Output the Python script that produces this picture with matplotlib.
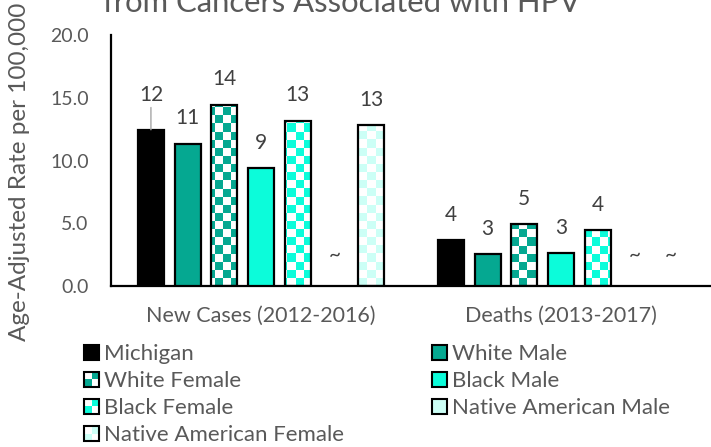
import matplotlib
matplotlib.use('Agg')
import matplotlib.pyplot as plt
import numpy as np
from matplotlib.colors import ListedColormap
from matplotlib.patches import Patch, Rectangle
from matplotlib.legend_handler import HandlerBase

plt.rcParams['font.family'] = ['Lato', 'DejaVu Sans']

# data
categories = ['New Cases (2012-2016)', 'Deaths (2013-2017)']
series = ['Michigan', 'White Male', 'White Female', 'Black Male',
          'Black Female', 'Native American Male', 'Native American Female']
new_cases = [12.45, 11.34, 14.45, 9.38, 13.17, np.nan, 12.83]
deaths = [3.67, 2.55, 4.94, 2.63, 4.46, np.nan, np.nan]
values = np.array([new_cases, deaths])

colors = ['#000000', '#05A891', '#05A891', '#0CFCDA', '#0CFCDA', '#CCFFF6', '#CCFFF6']
checkered = [False, False, True, False, True, False, True]

txt = '#595959'

fig = plt.figure(figsize=(7.11, 4.47), dpi=100)
ax = fig.add_axes([111/711, 1-286/447, 1-111/711, (286-35)/447])
ax.set_xlim(-0.5, 1.5)
ax.set_ylim(0, 20)

slot = 0.1223
width = 0.087
x = np.arange(len(categories))


def checker(bar, color):
    # checkerboard fill clipped to the bar, ~8 px cells
    ny, nx = 31, 75
    yy, xx = np.indices((ny, nx))
    img = ((xx + yy) % 2).astype(float)
    im = ax.imshow(img, cmap=ListedColormap(['white', color]), origin='lower',
                   extent=(*ax.get_xlim(), *ax.get_ylim()), aspect='auto',
                   interpolation='nearest', zorder=2)
    im.set_clip_path(bar)


for i, name in enumerate(series):
    pos = x + (i - 3) * slot
    vals = values[:, i]
    if checkered[i]:
        bars = ax.bar(pos, vals, width, facecolor='none', edgecolor='black',
                      linewidth=1.6, zorder=3)
        for b in bars:
            checker(b, colors[i])
    else:
        bars = ax.bar(pos, vals, width, color=colors[i], edgecolor='black',
                      linewidth=1.6, zorder=3)
    for p, v in zip(pos, vals):
        if np.isnan(v):
            ax.annotate('~', (p, 0), xytext=(0, 15), textcoords='offset points',
                        ha='center', va='bottom', fontsize=15, color='#404040')
        elif i == 0 and v > 10:
            ax.annotate(f'{v:.0f}', (p, v), xytext=(0, 18), textcoords='offset points',
                        ha='center', va='bottom', fontsize=15, color='#404040',
                        arrowprops=dict(arrowstyle='-', color='#A6A6A6', lw=1,
                                        shrinkA=0, shrinkB=0))
        else:
            ax.annotate(f'{v:.0f}', (p, v), xytext=(0, 11), textcoords='offset points',
                        ha='center', va='bottom', fontsize=15, color='#404040')

ax.set_xlim(-0.5, 1.5)
ax.set_ylim(0, 20)
ax.set_xticks(x)
ax.set_xticklabels(categories, fontsize=15.5)
ax.set_yticks(np.arange(0, 21, 5))
ax.set_yticklabels([f'{t:.1f}' for t in np.arange(0, 21, 5)], fontsize=14)
ax.tick_params(length=0, colors=txt)
ax.tick_params(axis='x', pad=14)
ax.tick_params(axis='y', pad=16)
for s in ['top', 'right']:
    ax.spines[s].set_visible(False)
ax.spines['left'].set_linewidth(1.6)
ax.spines['bottom'].set_linewidth(1.6)
ax.set_ylabel('Age-Adjusted Rate per 100,000', fontsize=17.5, color=txt)
ax.yaxis.set_label_coords(-0.135, 0.454)

fig.text(0.48, 1-12/447, 'from Cancers Associated with HPV', ha='center',
         va='baseline', fontsize=22.3, color=txt)


class CheckerHandler(HandlerBase):
    def create_artists(self, legend, orig, xd, yd, w, h, fontsize, trans):
        s = min(w, h)
        x0, y0 = -xd, -yd + (h - s) / 2
        c = orig.get_facecolor()
        arts = []
        for (cx, cy, fc) in [(0, 0, c), (1, 1, c), (0, 1, 'white'), (1, 0, 'white')]:
            arts.append(Rectangle((x0 + cx * s / 2, y0 + cy * s / 2), s / 2, s / 2,
                                  facecolor=fc, edgecolor='none', transform=trans))
        arts.append(Rectangle((x0, y0), s, s, facecolor='none', edgecolor='black',
                              lw=1.5, transform=trans))
        return arts


handles = [Patch(facecolor=c, edgecolor='black', lw=1.5) for c in colors]
hmap = {h: CheckerHandler() for h, ch in zip(handles, checkered) if ch}
order = [0, 2, 4, 6, 1, 3, 5]
fig.legend([handles[k] for k in order], [series[k] for k in order], handler_map=hmap,
           ncol=2, frameon=False, loc='upper left', bbox_to_anchor=(84/711, 1-344/447),
           fontsize=16, handlelength=0.68, handleheight=0.68, handletextpad=0.23,
           labelspacing=0.32, columnspacing=3.95, borderpad=0, borderaxespad=0,
           labelcolor=txt)

fig.savefig('out.png', dpi=100)
